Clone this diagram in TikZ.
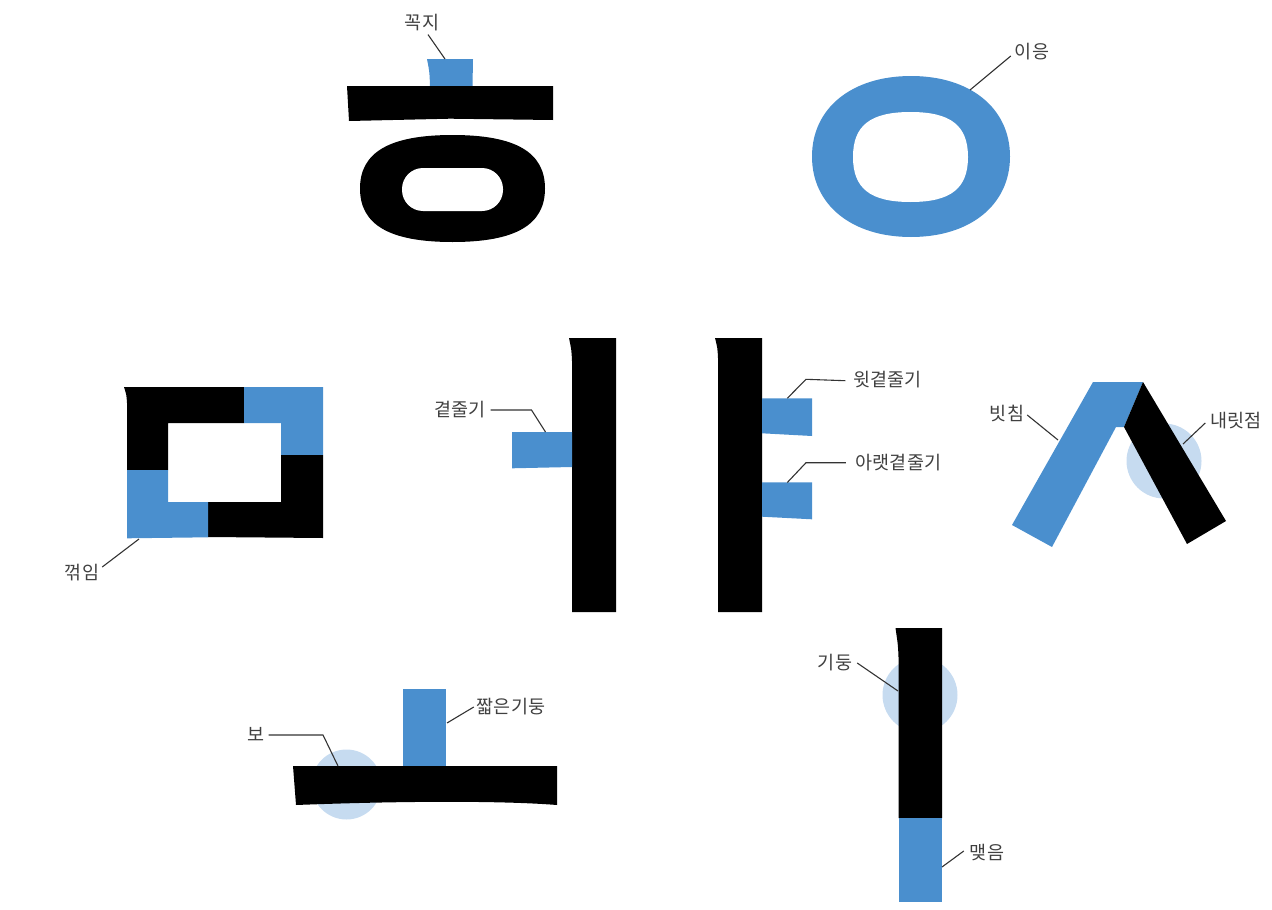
\documentclass[tikz,border=0pt]{standalone}
\usepackage{fontspec}
\newfontfamily\krfont{Noto Sans CJK KR}
\definecolor{hblue}{HTML}{4A8FCE}
\definecolor{hlight}{HTML}{C6DBF0}
\definecolor{txtgray}{HTML}{404040}
\definecolor{leadgray}{HTML}{333333}
\newcommand\sqellpath[5]{({#1+#3},{#2}) .. controls ({#1+#3},{#2-#5*#4}) and ({#1+#5*#3},{#2-#4}) .. ({#1},{#2-#4}) .. controls ({#1-#5*#3},{#2-#4}) and ({#1-#3},{#2-#5*#4}) .. ({#1-#3},{#2}) .. controls ({#1-#3},{#2+#5*#4}) and ({#1-#5*#3},{#2+#4}) .. ({#1},{#2+#4}) .. controls ({#1+#5*#3},{#2+#4}) and ({#1+#3},{#2+#5*#4}) .. ({#1+#3},{#2}) -- cycle}
\tikzset{
  lbl/.style={font=\krfont\fontsize{18.5}{22}\selectfont, text=txtgray, inner sep=0pt},
  lead/.style={draw=leadgray, line width=1.1pt},
  bluepart/.style={fill=hblue},
  blackpart/.style={fill=black},
  halo/.style={fill=hlight}
}
\begin{document}
\begin{tikzpicture}[x=1pt,y=-1pt]
\useasboundingbox (0,0) rectangle (1272,910);
% ---------- ㅎ ----------
\fill[bluepart] (427,59) -- (473,59) -- (472.5,86) -- (430,86) .. controls (429.5,72) .. (427,59) -- cycle;
\fill[blackpart] (347,86) -- (553,86) -- (553,120) -- (450,118.7) -- (349,121) -- cycle;
\fill[blackpart] \sqellpath{452.5}{188.5}{92.5}{53.5}{0.68};
\fill[white, rounded corners=21pt] (402,168) rectangle (503,211);
\coordinate (kjP) at (445,59);
\node[lbl] (kj) at (422,23) {꼭지};
\draw[lead] ([xshift=6pt,yshift=-3pt]kj.south) -- (kjP);
% ---------- ㅇ ----------
\fill[bluepart] \sqellpath{911}{156.5}{99}{80.5}{0.6};
\fill[white] \sqellpath{910.5}{157}{57.5}{45}{0.7};
\coordinate (ieP) at (970,90);
\node[lbl] (ie) at (1032,52) {이응};
\draw[lead] ([xshift=-4pt,yshift=-4pt]ie.west) -- (ieP);
% ---------- ㅁ ----------
\fill[blackpart] (124,387) -- (244,387) -- (244,423) -- (168,423) -- (168,470) -- (127,470) -- (127,403) .. controls (126.5,395) .. (124,387) -- cycle;
\fill[bluepart] (244,387) -- (323,387) -- (323,455) -- (281,455) -- (281,423) -- (244,423) -- cycle;
\fill[blackpart] (281,455) -- (323,455) -- (323,538) -- (208,537) -- (208,502) -- (281,502) -- cycle;
\fill[bluepart] (127,470) -- (168,470) -- (168,502) -- (208,502) -- (208,537.3) -- (127,538.3) -- cycle;
\coordinate (kkP) at (139,539);
\node[lbl] (kk) at (82,573) {꺾임};
\draw[lead] ([xshift=3pt,yshift=6pt]kk.east) -- (kkP);
% ---------- ㅓ ----------
\fill[blackpart] (569,338) -- (616,338) -- (616,612) -- (572,612) -- (572,361) .. controls (571.5,350) .. (569,338) -- cycle;
\fill[bluepart] (512,432) -- (572,432) -- (572,467) -- (512,468.3) -- cycle;
\coordinate (gjP) at (545.5,432);
\node[lbl] (gj) at (460,410) {곁줄기};
\draw[lead] ([xshift=5pt]gj.east) -- (531.5,410) -- (gjP);
% ---------- ㅕ ----------
\fill[blackpart] (715,338) -- (762,338) -- (762,612) -- (718,612) -- (718,358) .. controls (717.5,348) .. (715,338) -- cycle;
\fill[bluepart] (762,398.3) -- (812,398.3) -- (812,436) -- (762,433.3) -- cycle;
\fill[bluepart] (762,482.3) -- (812,482.3) -- (812,519.3) -- (762,516.7) -- cycle;
\coordinate (wgP) at (787.3,398.3);
\coordinate (agP) at (787.3,482.5);
\node[lbl] (wg) at (887.5,380) {윗곁줄기};
\node[lbl] (ag) at (898.5,463) {아랫곁줄기};
\draw[lead] ([xshift=-8pt,yshift=-0.7pt]wg.west) -- (806,379.3) -- (wgP);
\draw[lead] ([xshift=-10pt,yshift=0.3pt]ag.west) -- (806,462.7) -- (agP);
% ---------- ㅅ ----------
\fill[halo] (1164,461) circle (37.5);
\fill[bluepart] (1093,382) -- (1143,382) -- (1124,427) -- (1116,427) -- (1052,547) -- (1012,525) -- cycle;
\fill[blackpart] (1143,382) -- (1226,521) -- (1187,544) -- (1124,427) -- cycle;
\coordinate (bcP) at (1058,440);
\coordinate (nrP) at (1183,444);
\node[lbl] (bc) at (1007,413) {빗침};
\node[lbl] (nr) at (1236,421) {내릿점};
\draw[lead] ([xshift=3pt,yshift=-2pt]bc.east) -- (bcP);
\draw[lead] ([xshift=-5pt,yshift=-2pt]nr.west) -- (nrP);
% ---------- ㅗ ----------
\fill[halo] (346.5,784.5) circle (35);
\fill[bluepart] (403,689) -- (446,689) -- (446,766) -- (403,766) -- cycle;
\fill[blackpart] (293,766) -- (557,766) -- (557,805) .. controls (500,800.5) and (400,801) .. (296,805) -- cycle;
\coordinate (boP) at (338,766);
\coordinate (jjP) at (447,723);
\node[lbl] (bo) at (256,734) {보};
\node[lbl] (jj) at (511,707) {짧은기둥};
\draw[lead] ([xshift=4pt,yshift=-1pt]bo.east) -- (323,735) -- (boP);
\draw[lead] ([xshift=-3pt]jj.west) -- (jjP);
% ---------- ㅣ ----------
\fill[halo] (920,695) circle (37.5);
\fill[blackpart] (895.5,628) -- (942,628) -- (942,818) -- (898.5,818) -- (898.5,657) .. controls (898,645) .. (895.5,628) -- cycle;
\fill[bluepart] (898.5,818) -- (942,818) -- (942,902) -- (898.5,902) -- cycle;
\coordinate (gdP) at (898,691);
\coordinate (meP) at (942,867);
\node[lbl] (gd) at (835,663) {기둥};
\node[lbl] (me) at (987,853) {맺음};
\draw[lead] ([xshift=5pt]gd.east) -- (gdP);
\draw[lead] ([xshift=-6pt,yshift=2pt]me.west) -- (meP);
\end{tikzpicture}
\end{document}
